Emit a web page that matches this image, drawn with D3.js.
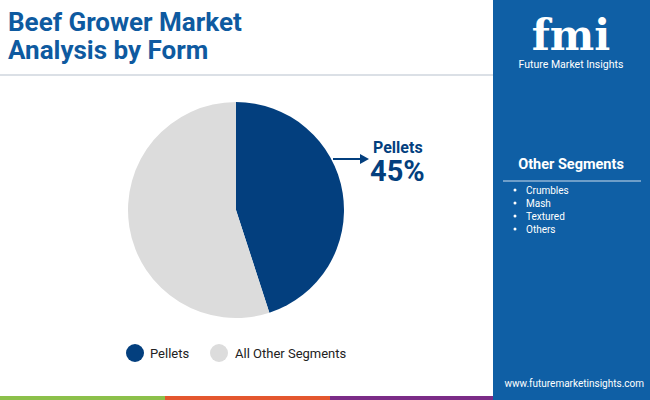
<!DOCTYPE html><html><head><meta charset="utf-8"><script src="https://cdn.jsdelivr.net/npm/d3@7"></script>
<style>body{margin:0}svg{font-family:Roboto,sans-serif}</style></head><body><svg id="c" width="650" height="400"></svg>
<script>
const categories=["Pellets","All Other Segments"];
const values=[45,55];
const colors=["#033f7e","#dcdcdc"];
const otherSegments=["Crumbles","Mash","Textured","Others"];
const svg=d3.select("#c");
svg.append("rect").attr("width",650).attr("height",400).attr("fill","#fff");
svg.append("text").attr("x",8).attr("y",31).attr("font-size",26).attr("font-weight",700).attr("fill","#0e5aa0").text("Beef Grower Market");
svg.append("text").attr("x",8).attr("y",59).attr("font-size",26).attr("font-weight",700).attr("fill","#0e5aa0").text("Analysis by Form");
svg.append("line").attr("x1",0).attr("x2",493).attr("y1",75).attr("y2",75).attr("stroke","#cfd6de").attr("stroke-width",1.5);
svg.append("rect").attr("x",493).attr("y",0).attr("width",157).attr("height",400).attr("fill","#0f5fa5");
svg.append("text").attr("x",571).attr("y",50).attr("text-anchor","middle").attr("font-size",42).attr("font-weight",900).attr("fill","#fff").attr("font-family","DejaVu Serif").text("fmi");
svg.append("text").attr("x",571).attr("y",68).attr("text-anchor","middle").attr("font-size",10.5).attr("fill","#fff").text("Future Market Insights");
svg.append("text").attr("x",571).attr("y",169).attr("text-anchor","middle").attr("font-size",14.5).attr("font-weight",700).attr("fill","#fff").text("Other Segments");
svg.append("line").attr("x1",503).attr("x2",641).attr("y1",181).attr("y2",181).attr("stroke","#8fb3d6").attr("stroke-width",1.5);
otherSegments.forEach((s,i)=>{
 svg.append("circle").attr("cx",515).attr("cy",190+i*13).attr("r",1.5).attr("fill","#fff");
 svg.append("text").attr("x",526).attr("y",194+i*13).attr("font-size",10).attr("fill","#fff").text(s);
});
svg.append("text").attr("x",644).attr("y",387).attr("text-anchor","end").attr("font-size",10).attr("fill","#fff").text("www.futuremarketinsights.com");
[["#8cc04a",0,165],["#e4572e",165,330],["#7b2c87",330,493]].forEach(b=>svg.append("rect").attr("x",b[1]).attr("y",396).attr("width",b[2]-b[1]).attr("height",4).attr("fill",b[0]));
const pie=d3.pie().sort(null).value(d=>d)(values);
const arc=d3.arc().innerRadius(0).outerRadius(108);
svg.append("g").attr("transform","translate(236,210)").selectAll("path").data(pie).join("path").attr("d",arc).attr("fill",(d,i)=>colors[i]);
svg.append("line").attr("x1",333).attr("x2",362).attr("y1",159).attr("y2",159).attr("stroke","#033f7e").attr("stroke-width",2);
svg.append("path").attr("d","M360,154 L369,159 L360,164Z").attr("fill","#033f7e");
svg.append("text").attr("x",373).attr("y",153).attr("font-size",16).attr("font-weight",700).attr("fill","#033f7e").text(categories[0]);
svg.append("text").attr("x",370).attr("y",181).attr("font-size",29).attr("font-weight",700).attr("fill","#033f7e").text(values[0]+"%");
const lg=[[135,150],[219,235]];
categories.forEach((c,i)=>{
 svg.append("circle").attr("cx",lg[i][0]).attr("cy",353).attr("r",9).attr("fill",colors[i]);
 svg.append("text").attr("x",lg[i][1]).attr("y",358).attr("font-size",13).attr("fill","#222").text(c);
});
</script></body></html>
